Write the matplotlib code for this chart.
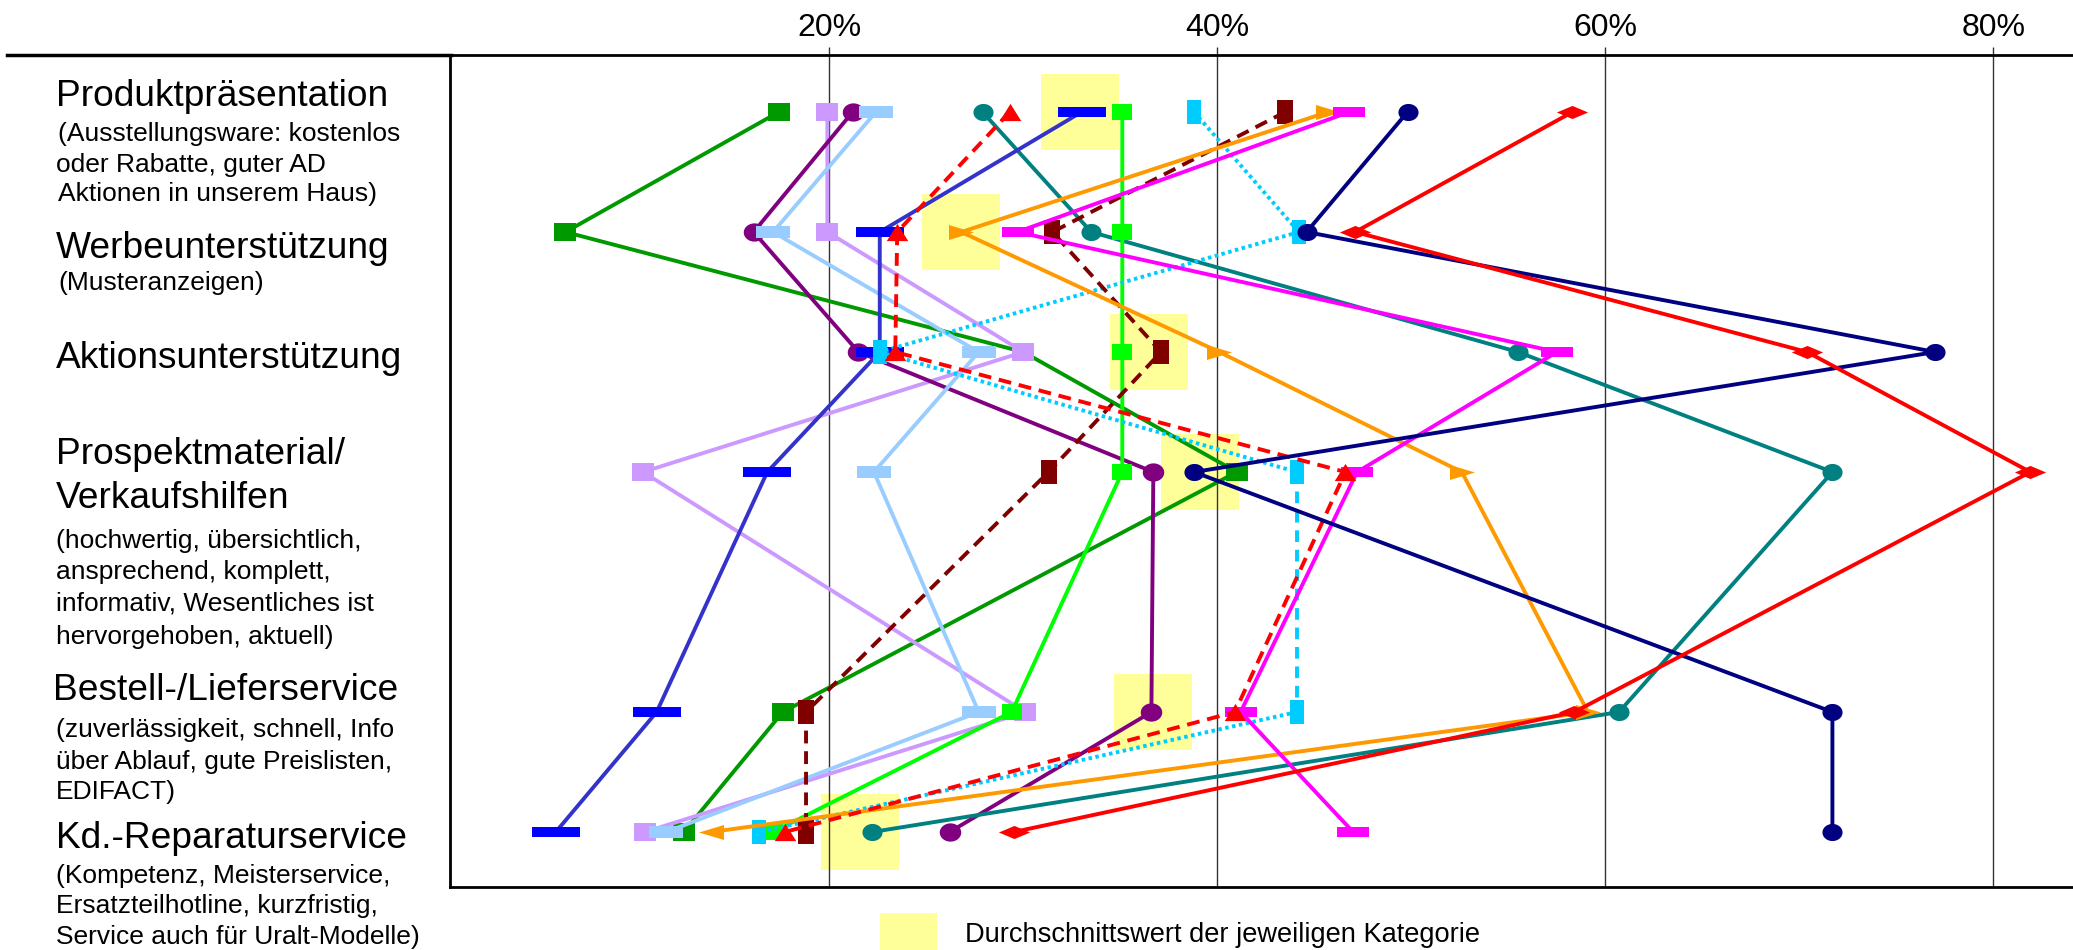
import matplotlib
matplotlib.use("Agg")
import matplotlib.pyplot as plt
from matplotlib.path import Path
from matplotlib.patches import Rectangle
from matplotlib.lines import Line2D
import numpy as np

plt.rcParams['font.family'] = ['Liberation Sans', 'DejaVu Sans']

# ---------------- data ----------------
categories = ["Produktpräsentation", "Werbeunterstützung", "Aktionsunterstützung",
              "Prospektmaterial/Verkaufshilfen", "Bestell-/Lieferservice", "Kd.-Reparaturservice"]
row_pos = [0, 1, 2, 3, 5, 6]
tick_values = [20, 40, 60, 80]
tick_labels = ["20%", "40%", "60%", "80%"]

average = [32.9, 26.8, 36.5, 39.1, 36.7, 21.6]

dark_green = [17.4, 6.4, 30.0, 41.0, 17.6, 12.5]
light_purple = [19.9, 19.9, 30.0, 10.4, 30.1, 10.5]
purple = [21.2, 16.1, 21.5, 36.7, 36.6, 26.2]
light_blue = [22.4, 17.1, 27.7, 22.3, 27.7, 11.6]
teal = [27.9, 33.5, 55.5, 71.7, 60.7, 22.2]
blue = [33.0, 22.6, 22.6, 16.8, 11.1, 5.9]
lime = [35.1, 35.1, 35.1, 35.1, 29.4, 17.1]
cyan = [38.8, 44.2, 22.6, 44.1, 44.1, 16.4]
dark_red = [43.5, 31.5, 37.1, 31.3, 18.8, 18.8]
orange = [45.7, 26.8, 40.1, 52.6, 59.1, 13.9]
magenta = [46.8, 29.7, 57.5, 47.2, 41.2, 47.0]
red_dashed = [29.3, 23.5, 23.4, 46.6, 40.9, 17.7]
navy = [49.8, 44.6, 77.0, 38.8, 71.7, 71.7]
red_diamond = [58.3, 47.1, 70.4, 81.9, 58.4, 29.5]

legend_text = "Durchschnittswert der jeweiligen Kategorie"

# ---------------- marker shapes ----------------
def rect(w, h):
    return Path([(-w, -h), (w, -h), (w, h), (-w, h), (-w, -h)], closed=True)

def ellipse_marker(a, b):
    t = np.linspace(0, 2 * np.pi, 40)
    return Path(list(zip(a * np.cos(t), b * np.sin(t))), closed=True)

sq = rect(1, 0.8)
circ = ellipse_marker(1, 0.85)
lb_rect = rect(1, 0.375)
bl_rect = rect(1, 0.21)
cy_rect = rect(0.57, 1)
dr_rect = rect(0.64, 1)
mg_rect = rect(1, 0.32)
tri_up = Path([(-1, -0.8), (1, -0.8), (0, 0.8), (-1, -0.8)], closed=True)
tri_right = Path([(-1, -0.6), (1, 0), (-1, 0.6), (-1, -0.6)], closed=True)
tri_left = Path([(1, -0.6), (-1, 0), (1, 0.6), (1, -0.6)], closed=True)
diamond = Path([(-1, 0), (0, 0.42), (1, 0), (0, -0.42), (-1, 0)], closed=True)

series = [
    dict(v=dark_green, c='#009900', lc='#009900', m=sq, ms=15.5, ls='-'),
    dict(v=light_purple, c='#CC99FF', lc='#CC99FF', m=sq, ms=15.5, ls='-'),
    dict(v=purple, c='#800080', lc='#800080', m=circ, ms=15.5, ls='-'),
    dict(v=light_blue, c='#99CCFF', lc='#99CCFF', m=lb_rect, ms=24, ls='-'),
    dict(v=teal, c='#008080', lc='#008080', m=circ, ms=14.5, ls='-'),
    dict(v=blue, c='#0000FF', lc='#3333CC', m=bl_rect, ms=34, ls='-'),
    dict(v=lime, c='#00FF00', lc='#00FF00', m=sq, ms=15, ls='-'),
    dict(v=cyan, c='#00CCFF', lc='#00CCFF', m=cy_rect, ms=17.5, ls='dotted'),
    dict(v=dark_red, c='#800000', lc='#800000', m=dr_rect, ms=17, ls='dashed'),
    dict(v=orange, c='#FF9900', lc='#FF9900',
         m=[tri_right, tri_right, tri_right, tri_right, tri_right, tri_left], ms=18, ls='-'),
    dict(v=magenta, c='#FF00FF', lc='#FF00FF', m=mg_rect, ms=23, ls='-'),
    dict(v=red_dashed, c='#FF0000', lc='#FF0000', m=tri_up, ms=15.5, ls='dashed'),
    dict(v=navy, c='#000080', lc='#000080', m=circ, ms=14.5, ls='-'),
    dict(v=red_diamond, c='#FF0000', lc='#FF0000', m=diamond, ms=22.5, ls='-'),
]

# ---------------- figure ----------------
W, H = 2073, 950
fig = plt.figure(figsize=(W / 100, H / 100), dpi=100)
ax = fig.add_axes([450 / W, 1 - 887 / H, (W - 450) / W, (887 - 55) / H])
ax.set_xlim(0.45, 84.1)
ax.set_ylim(6.458, -0.475)

for v in tick_values:
    ax.axvline(v, color='#333333', lw=1.0, zorder=0.5)

for a, p in zip(average, row_pos):
    ax.add_patch(Rectangle((a - 2.01, p - 0.317), 4.02, 0.633, color='#FFFF99', zorder=0.3, lw=0))

lw = 2.8
for i, s in enumerate(series):
    z = 2 + i * 0.1
    vals = s['v']
    if s['ls'] == 'dotted':
        # dotted, except dashed between Prospektmaterial and Bestell-/Lieferservice
        for k in range(len(vals) - 1):
            dash = (3.0, 2.0) if k == 3 else (0.9, 0.9)
            ax.plot(vals[k:k + 2], row_pos[k:k + 2], color=s['lc'], lw=lw,
                    dashes=dash, zorder=z, dash_capstyle='butt')
    elif s['ls'] == 'dashed':
        ax.plot(vals, row_pos, color=s['lc'], lw=lw, dashes=(3.3, 2.0), zorder=z)
    else:
        ax.plot(vals, row_pos, color=s['lc'], lw=lw, zorder=z)
    marks = s['m'] if isinstance(s['m'], list) else [s['m']] * len(vals)
    for x, y, mk in zip(vals, row_pos, marks):
        ax.plot([x], [y], linestyle='none', marker=mk, markersize=s['ms'],
                markerfacecolor=s['c'], markeredgewidth=0, zorder=z + 0.05)

ax.xaxis.tick_top()
ax.set_xticks(tick_values)
ax.set_xticklabels(tick_labels)
ax.tick_params(axis='x', direction='out', length=6, width=1, pad=3, labelsize=23, color='#333333')
ax.set_yticks([])
ax.spines['right'].set_visible(False)
for sp in ['top', 'left', 'bottom']:
    ax.spines[sp].set_linewidth(2)
    ax.spines[sp].set_color('black')

# line over the label column
fig.add_artist(Line2D([7 / W, 451 / W], [1 - 55 / H, 1 - 55 / H], color='black', lw=2.5))

# ---------------- category labels ----------------
def ftext(x, y, s, size):
    fig.text(x / W, 1 - y / H, s, fontsize=size, va='center', ha='left')

big, small = 26.7, 19
ftext(56, 96, "Produktpräsentation", big)
ftext(58, 134, "(Ausstellungsware: kostenlos", small)
ftext(56, 165, "oder Rabatte, guter AD", small)
ftext(58, 194, "Aktionen in unserem Haus)", small)

ftext(56, 248, "Werbeunterstützung", big)
ftext(58, 283, "(Musteranzeigen)", small)

ftext(56, 358, "Aktionsunterstützung", big)

ftext(56, 454, "Prospektmaterial/", big)
ftext(56, 498, "Verkaufshilfen", big)
ftext(56, 541, "(hochwertig, übersichtlich,", small)
ftext(56, 572, "ansprechend, komplett,", small)
ftext(56, 604, "informativ, Wesentliches ist", small)
ftext(56, 637, "hervorgehoben, aktuell)", small)

ftext(53, 691, "Bestell-/Lieferservice", big)
ftext(56, 730, "(zuverlässigkeit, schnell, Info", small)
ftext(56, 762, "über Ablauf, gute Preislisten,", small)
ftext(56, 792, "EDIFACT)", small)

ftext(56, 839, "Kd.-Reparaturservice", big)
ftext(56, 876, "(Kompetenz, Meisterservice,", small)
ftext(56, 906, "Ersatzteilhotline, kurzfristig,", small)
ftext(56, 937, "Service auch für Uralt-Modelle)", small)

# ---------------- legend ----------------
fig.add_artist(Rectangle((880 / W, 1 - 950 / H), 57 / W, 37 / H, color='#FFFF99', lw=0,
                         transform=fig.transFigure))
fig.text(965 / W, 1 - 935 / H, legend_text, fontsize=19.6, va='center', ha='left')

fig.savefig("out.png", dpi=100)
